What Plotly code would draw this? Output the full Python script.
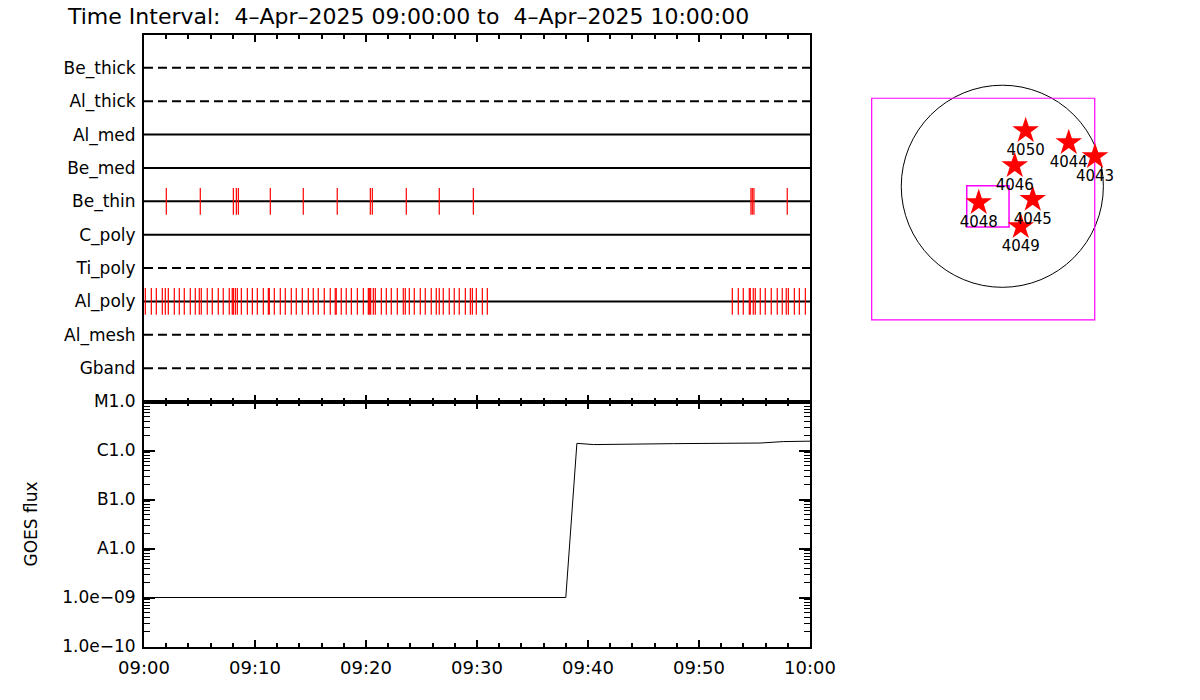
import pandas as pd
import plotly.graph_objects as go

# ---------------- data ----------------
T0 = pd.Timestamp("2025-04-04 09:00:00")
T1 = pd.Timestamp("2025-04-04 10:00:00")
title_text = "Time Interval:  4\u2013Apr\u20132025 09:00:00 to  4\u2013Apr\u20132025 10:00:00"

channels = ["Gband", "Al_mesh", "Al_poly", "Ti_poly", "C_poly",
            "Be_thin", "Be_med", "Al_med", "Al_thick", "Be_thick"]
channel_dashed = [True, True, False, True, False, False, False, False, True, True]

# minutes after 09:00 of observations per filter
be_thin_min = [2.01, 5.07, 8.05, 8.32, 8.50, 11.38, 14.35, 17.41, 20.39, 20.57,
               23.63, 26.60, 29.67, 54.68, 54.80, 54.95, 57.95]
al_poly_min = [0.12, 0.66, 1.11, 1.65, 1.92, 2.19, 2.73, 3.18, 3.63, 4.17, 4.62,
               4.98, 5.16, 5.70, 6.15, 6.69, 7.14, 7.68, 7.95, 8.05, 8.23, 8.41,
               8.77, 9.31, 9.76, 10.21, 10.75, 11.20, 11.29, 11.74, 12.28, 12.73,
               13.27, 13.72, 14.26, 14.80, 15.25, 15.70, 16.24, 16.78, 17.23,
               17.32, 17.77, 18.22, 18.68, 19.22, 19.76, 20.21, 20.30, 20.42,
               20.66, 20.84, 21.38, 21.83, 22.28, 22.82, 23.36, 23.54, 23.90,
               24.35, 24.89, 25.34, 25.88, 26.33, 26.60, 26.96, 27.50, 27.95,
               28.40, 28.95, 29.40, 29.58, 29.94, 30.48, 30.93,
               53.00, 53.54, 53.99, 54.53, 54.62, 54.89, 55.07, 55.52, 55.97,
               56.51, 57.05, 57.50, 57.86, 58.05, 58.59, 59.04, 59.58]

goes_min = [0.0, 38.0, 39.0, 40.5, 47.7, 55.5, 57.6, 59.7, 60.0]
goes_flux = [1.0e-9, 1.0e-9, 1.40e-6, 1.32e-6, 1.38e-6, 1.42e-6, 1.52e-6, 1.54e-6, 1.55e-6]
goes_tickvals = [1e-10, 1e-9, 1e-8, 1e-7, 1e-6, 1e-5]
goes_ticktext = ["1.0e\u221210", "1.0e\u221209", "A1.0", "B1.0", "C1.0", "M1.0"]

# active regions (arcsec from disk centre)
ar_num = ["4050", "4044", "4043", "4046", "4045", "4048", "4049"]
ar_x = [222, 631, 881, 118, 289, -224, 175]
ar_y = [528, 414, 281, 196, -124, -156, -384]
solar_radius = 960
fov_outer_x = [-1241, 878]
fov_outer_y = [-1270, 836]
fov_inner_x = [-338, 64]
fov_inner_y = [-387, 6]


def tm(m):
    return T0 + pd.to_timedelta(m, unit="min")


FONT = "DejaVu Sans"
W, H = 1200, 700


def px_x(p):
    return p / W


def px_y(p):
    return 1 - p / H


fig = go.Figure()

# channel base lines
for i, (name, dashed) in enumerate(zip(channels, channel_dashed)):
    fig.add_trace(go.Scatter(
        x=[T0, T1], y=[i + 1, i + 1], mode="lines",
        line=dict(color="black", width=2, dash="9px,5px" if dashed else "solid"),
        xaxis="x", yaxis="y", showlegend=False, hoverinfo="skip"))


def tick_segments(mins, level, half=0.4):
    xs, ys = [], []
    for m in mins:
        xs += [tm(m), tm(m), None]
        ys += [level - half, level + half, None]
    return xs, ys


for mins, name in [(be_thin_min, "Be_thin"), (al_poly_min, "Al_poly")]:
    lvl = channels.index(name) + 1
    xs, ys = tick_segments(mins, lvl)
    fig.add_trace(go.Scatter(x=xs, y=ys, mode="lines",
                             line=dict(color="red", width=1.2),
                             xaxis="x", yaxis="y", showlegend=False, hoverinfo="skip"))

# GOES curve
fig.add_trace(go.Scatter(x=[tm(m) for m in goes_min], y=goes_flux, mode="lines",
                         line=dict(color="black", width=1),
                         xaxis="x2", yaxis="y2", showlegend=False))

# map
fig.add_trace(go.Scatter(x=ar_x, y=ar_y, mode="markers+text", text=ar_num,
                         textposition="bottom center",
                         textfont=dict(family=FONT, size=15, color="black"),
                         marker=dict(symbol="star", size=20, color="red",
                                     line=dict(width=0)),
                         xaxis="x3", yaxis="y3", showlegend=False))

shapes = [
    dict(type="circle", xref="x3", yref="y3", x0=-solar_radius, x1=solar_radius,
         y0=-solar_radius, y1=solar_radius, line=dict(color="black", width=1), layer="below"),
    dict(type="rect", xref="x3", yref="y3", x0=fov_outer_x[0], x1=fov_outer_x[1],
         y0=fov_outer_y[0], y1=fov_outer_y[1], line=dict(color="#FF00FF", width=1.2), layer="below"),
    dict(type="rect", xref="x3", yref="y3", x0=fov_inner_x[0], x1=fov_inner_x[1],
         y0=fov_inner_y[0], y1=fov_inner_y[1], line=dict(color="#FF00FF", width=1.5), layer="below"),
]

xdom = [px_x(144), px_x(810)]
top_dom = [px_y(401.5), px_y(34.5)]
bot_dom = [px_y(646.5), px_y(401.5)]

tfont = dict(family=FONT, size=18, color="black")

common_x = dict(type="date", range=[T0, T1], showgrid=False, zeroline=False,
                showline=True, linecolor="black", linewidth=2, mirror="ticks",
                ticks="inside", ticklen=7, tickwidth=2, tickcolor="black",
                dtick=600000, tick0=T0, tickformat="%H:%M",
                minor=dict(ticks="inside", ticklen=4, tickwidth=2, tickcolor="black",
                           dtick=120000, showgrid=False),
                domain=xdom, tickfont=tfont, automargin=False, ticklabelstandoff=4)

fig.update_layout(
    width=W, height=H,
    margin=dict(l=0, r=0, t=0, b=0),
    paper_bgcolor="white", plot_bgcolor="white",
    font=dict(family=FONT, color="black"),
    title=dict(text=title_text, x=px_x(68), xanchor="left", xref="paper",
               y=px_y(16), yanchor="middle", yref="paper",
               font=dict(family=FONT, size=22, color="black")),
    xaxis=dict(common_x, anchor="y", showticklabels=False),
    yaxis=dict(domain=top_dom, range=[0, 11], tickvals=list(range(1, 11)),
               ticktext=channels, ticks="", showgrid=False, zeroline=False,
               showline=True, linecolor="black", linewidth=2, mirror=True,
               tickfont=dict(family=FONT, size=17, color="black"),
               automargin=False, anchor="x", ticklabelstandoff=3),
    xaxis2=dict(common_x, anchor="y2", showticklabels=True),
    yaxis2=dict(domain=bot_dom, type="log", range=[-10, -5],
                tickvals=goes_tickvals, ticktext=goes_ticktext,
                ticks="inside", ticklen=11, tickwidth=1.5, tickcolor="black",
                minor=dict(ticks="inside", ticklen=6, tickwidth=1, tickcolor="black",
                           dtick="D1", showgrid=False),
                showgrid=False, zeroline=False, showline=True, linecolor="black",
                linewidth=2, mirror="ticks", tickfont=dict(family=FONT, size=17, color="black"),
                automargin=False, anchor="x2", ticklabelstandoff=3,
                title=dict(text="GOES flux", font=dict(family=FONT, size=17, color="black"),
                           standoff=20)),
    xaxis3=dict(domain=[px_x(860), px_x(1120)], range=[-1352, 1118], visible=False,
                anchor="y3"),
    yaxis3=dict(domain=[px_y(335), px_y(75)], range=[-1413, 1057], visible=False,
                anchor="x3"),
    shapes=shapes,
)

# remove the default page margin so the 1200x700 figure fills the window exactly
fig.write_html("out.html", config={"displayModeBar": False},
               post_script="document.body.style.margin='0px';")
